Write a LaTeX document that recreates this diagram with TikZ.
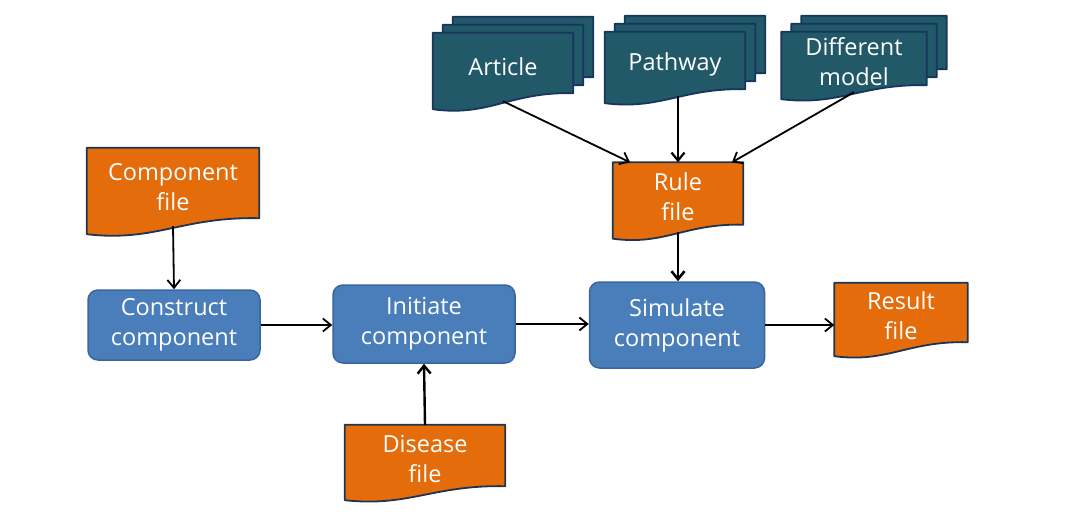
\documentclass[tikz,border=0pt]{standalone}
\usepackage{fontspec}
\setmainfont{Open Sans}
\usetikzlibrary{arrows.meta,calc,positioning}
\definecolor{filefill}{HTML}{E46C0A}
\definecolor{fileline}{HTML}{1F3450}
\definecolor{procfill}{HTML}{4A7EBB}
\definecolor{procline}{HTML}{3A659C}
\definecolor{sheetfill}{HTML}{215968}
\definecolor{sheetline}{HTML}{17365D}
\pgfdeclarelayer{bg}
\pgfsetlayers{bg,main}
\tikzset{
  proc/.style={rectangle,rounded corners=10pt,draw=procline,line width=1.5pt,
    fill=procfill,text=white,align=center,inner sep=0pt,
    font=\fontsize{23.5}{30}\selectfont},
  filenode/.style={rectangle,text=white,align=center,inner sep=0pt,
    font=\fontsize{23.5}{30}\selectfont},
  docline/.style={line width=1.8pt,line join=round},
  flow/.style={-{Straight Barb[length=8pt,width=13pt]},line width=1.8pt}
}
\begin{document}
\begin{tikzpicture}[x=1pt,y=-1pt]
\useasboundingbox (0,0) rectangle (1084,519);
%process boxes
\node[proc,minimum width=172pt,minimum height=70pt] (construct) at (174,325) {Construct\\component};
\node[proc,minimum width=182pt,minimum height=78pt] (initiate) at (424,324) {Initiate\\component};
\node[proc,minimum width=175pt,minimum height=86pt] (simulate) at (677,325) {Simulate\\component};
%files
\node[filenode,minimum width=172pt,minimum height=78pt] (cfile) at (173,187) {Component\\file};
\node[filenode,minimum width=130pt,minimum height=69pt] (rule) at (678,197) {Rule\\file};
\node[filenode,minimum width=133pt,minimum height=66pt] (result) at (901,316) {Result\\file};
\node[filenode,minimum width=160pt,minimum height=68pt] (disease) at (425,459) {Disease\\file};
%sources
\node[filenode,minimum width=140pt,minimum height=68pt] (article) at (503,67) {Article};
\node[filenode,minimum width=140pt,minimum height=64pt] (pathway) at (675,64) {Pathway};
\node[filenode,minimum width=145pt,minimum height=60pt] (model) at (854,62) {Different\\model};
%file outlines
\begin{pgfonlayer}{bg}
\foreach \n/\a in {cfile/8,rule/7,result/7,disease/7}{
  \draw[docline,draw=fileline,fill=filefill] (\n.north west) -- (\n.north east) --
  ($(\n.south east)+(0,-\a)$) .. controls ($(\n.south east)!.45!(\n.south west)+(0,-1.2*\a)$)
  and ($(\n.south east)!.6!(\n.south west)+(0,2*\a)$) .. ($(\n.south west)+(0,\a)$) -- cycle;
}
%stacked sheets, back to front
\foreach \n/\a in {article/8,pathway/7,model/7}{
  \foreach \o in {20,10,0}{
    \draw[docline,draw=sheetline,fill=sheetfill] ($(\n.north west)+(\o,-.8*\o)$) --
    ($(\n.north east)+(\o,-.8*\o)$) -- ($(\n.south east)+(\o,-.8*\o-\a)$)
    .. controls ($(\n.south east)!.45!(\n.south west)+(\o,-.8*\o-1.2*\a)$)
    and ($(\n.south east)!.6!(\n.south west)+(\o,-.8*\o+2*\a)$)
    .. ($(\n.south west)+(\o,-.8*\o+\a)$) -- cycle;
  }
}
\end{pgfonlayer}
%arrows
\draw[flow] (cfile.south) -- (construct.north);
\draw[flow] (construct.east) -- (construct.east -| initiate.west);
\draw[flow] (initiate.east) -- (initiate.east -| simulate.west);
\draw[flow] (simulate.east) -- (simulate.east -| result.west);
\draw[flow,line width=2.4pt] (disease.north) -- (initiate.south);
\draw[flow,line width=2.6pt] (rule.south) -- (rule.south |- simulate.north);
\draw[flow] (article.south) -- ($(rule.north)+(-48,0)$);
\draw[flow,line width=2.2pt] (pathway.south -| rule.north) -- (rule.north);
\draw[flow] (model.south) -- ($(rule.north)+(54,0)$);
\end{tikzpicture}
\end{document}
